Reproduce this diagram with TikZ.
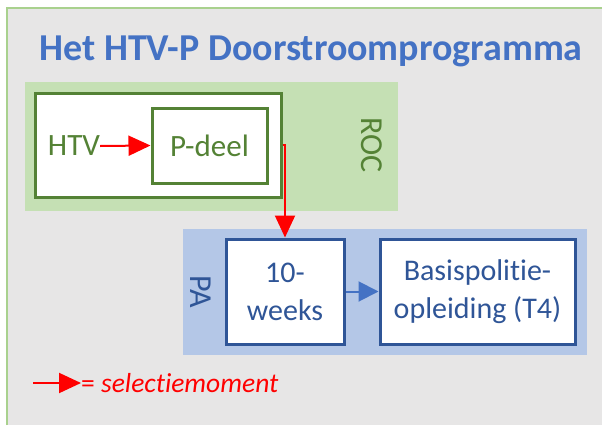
\documentclass[tikz,border=0pt]{standalone}
\usepackage{fontspec}
\setmainfont{Carlito}[Ligatures=NoCommon]
\usetikzlibrary{arrows.meta}
\definecolor{framegray}{HTML}{E7E6E6}
\definecolor{frameline}{HTML}{A9D18E}
\definecolor{rocfill}{HTML}{C5E0B4}
\definecolor{rocdark}{HTML}{548235}
\definecolor{pafill}{HTML}{B4C7E7}
\definecolor{padark}{HTML}{2F5597}
\definecolor{titleblue}{HTML}{4472C4}
\begin{document}
\begin{tikzpicture}[x=1pt,y=-1pt,
    greenbox/.style={draw=rocdark,line width=3pt,fill=white,inner sep=0pt},
    bluebox/.style={draw=padark,line width=3pt,fill=white,text=padark,align=center,inner sep=0pt,
      font=\fontsize{30}{38}\selectfont},
    sel/.style={red,line width=2pt,-{Triangle[length=22pt,width=20pt]}}]
  \useasboundingbox (0,0) rectangle (602,428);
  % frame
  \fill[framegray] (7,8) rectangle (602,425);
  \draw[frameline,line width=2pt] (7,425)--(7,8)--(602,8);
  \node[anchor=base west,text=titleblue,font=\fontsize{38}{42}\selectfont\bfseries] (title) at (36,60) {Het HTV-P Doorstroomprogramma};
  % ROC
  \fill[rocfill] (25,82) rectangle (398,211);
  \node[greenbox,minimum width=246pt,minimum height=104pt] (htvbox) at (158,145) {};
  \node[greenbox,minimum width=115pt,minimum height=75pt,text=rocdark,font=\fontsize{31}{36}\selectfont] (pdeel) at (209.5,145.5) {P-deel};
  \node[text=rocdark,font=\fontsize{31}{36}\selectfont,inner sep=0pt] (htv) at (74,146) {HTV};
  \node[text=rocdark,font=\fontsize{32}{36}\selectfont,rotate=-90] (roc) at (372,145) {ROC};
  \draw[sel] (htv.east) -- (pdeel.west);
  % PA
  \fill[pafill] (183,229) rectangle (587,355);
  \node[bluebox,minimum width=118pt,minimum height=105pt] (weeks) at (285,291.5) {10-\\weeks};
  \node[bluebox,minimum width=195pt,minimum height=105pt] (basis) at (477.5,291.5) {Basispolitie-\\opleiding (T4)};
  \node[text=padark,font=\fontsize{32}{36}\selectfont,rotate=-90] (pa) at (201,292) {PA};
  \draw[titleblue,line width=2pt,-{Triangle[length=20pt,width=20pt]}] (weeks) -- (basis);
  \draw[sel] (htvbox.east) -| (weeks.north);
  % legend
  \coordinate (legstart) at (33,383);
  \node[anchor=west,text=red,font=\fontsize{27.5}{32}\selectfont,inner sep=0pt] (legend) at (81,383) {= \textit{selectiemoment}};
  \draw[sel] (legstart) -- (legend.west);
\end{tikzpicture}
\end{document}
